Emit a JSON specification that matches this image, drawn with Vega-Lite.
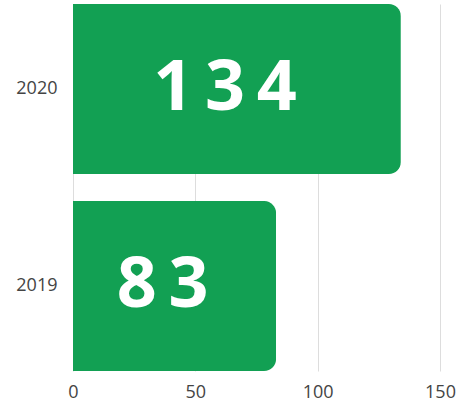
{
  "$schema": "https://vega.github.io/schema/vega-lite/v6.json",
  "width": 367,
  "height": 367,
  "autosize": {"type": "none"},
  "padding": {"left": 73, "top": 4, "right": 28, "bottom": 31},
  "background": "#ffffff",
  "config": {
    "view": {"stroke": null},
    "font": "Open Sans"
  },
  "data": {
    "values": [
      {"year": "2020", "value": 134},
      {"year": "2019", "value": 83}
    ]
  },
  "encoding": {
    "y": {
      "field": "year",
      "type": "nominal",
      "sort": ["2020", "2019"],
      "scale": {"paddingInner": 0.137, "paddingOuter": 0},
      "axis": {
        "title": null,
        "domain": false,
        "ticks": false,
        "labelFontSize": 18,
        "labelColor": "#444444",
        "labelFont": "Open Sans",
        "labelPadding": 16
      }
    }
  },
  "layer": [
    {
      "mark": {"type": "bar", "color": "#12A053", "cornerRadiusEnd": 12},
      "encoding": {
        "x": {
          "field": "value",
          "type": "quantitative",
          "scale": {"domain": [0, 150], "nice": false},
          "axis": {
            "title": null,
            "values": [0, 50, 100, 150],
            "domain": false,
            "ticks": false,
            "grid": true,
            "gridColor": "#dddddd",
            "gridWidth": 1,
            "labelFontSize": 18,
            "labelColor": "#444444",
            "labelFont": "Open Sans",
            "labelPadding": 12,
            "labelFlush": false
          }
        }
      }
    },
    {
      "transform": [{"calculate": "datum.value / 2", "as": "mid"}],
      "mark": {
        "type": "text",
        "color": "#ffffff",
        "font": "Open Sans",
        "fontWeight": "bold",
        "fontSize": 70,
        "align": "center",
        "baseline": "middle",
        "dx": -12,
        "text": {"expr": "join(split(toString(datum.value), ''), '\u2006')"}
      },
      "encoding": {
        "x": {"field": "mid", "type": "quantitative"}
      }
    }
  ]
}
